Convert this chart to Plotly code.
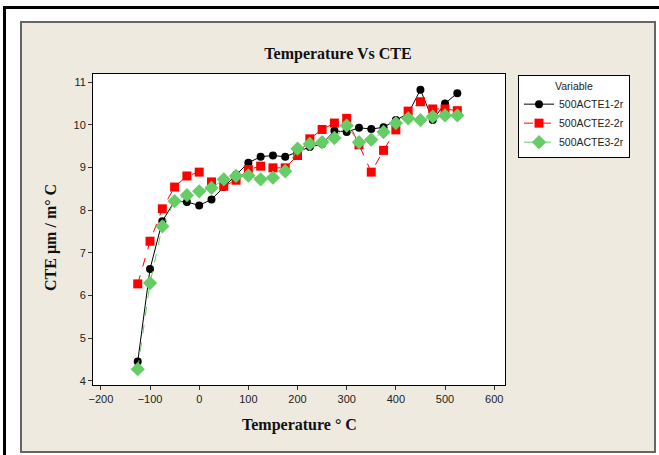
import plotly.graph_objects as go

# Temperature steps (°C)
temperature = [-125, -100, -75, -50, -25, 0, 25, 50, 75, 100, 125, 150, 175, 200,
               225, 250, 275, 300, 325, 350, 375, 400, 425, 450, 475, 500, 525]

# CTE readings (µm/m°C) for each specimen
cte_1 = [4.45, 6.62, 7.74, 8.21, 8.19, 8.11, 8.25, 8.54, 8.83, 9.11, 9.25, 9.28, 9.25, 9.36,
         9.48, 9.55, 9.86, 9.83, 9.93, 9.90, 9.94, 10.11, 10.26, 10.82, 10.11, 10.50, 10.74]
cte_2 = [6.27, 7.27, 8.03, 8.54, 8.80, 8.89, 8.66, 8.56, 8.70, 8.95, 9.03, 8.99, 8.99, 9.28,
         9.67, 9.89, 10.04, 10.15, 9.53, 8.89, 9.40, 9.88, 10.32, 10.54, 10.37, 10.37, 10.33]
cte_3 = [4.27, 6.29, 7.62, 8.21, 8.35, 8.44, 8.52, 8.72, 8.80, 8.81, 8.72, 8.76, 8.91, 9.44,
         9.55, 9.59, 9.69, 9.98, 9.59, 9.65, 9.83, 10.04, 10.15, 10.11, 10.19, 10.22, 10.22]

series_names = ["500ACTE1-2r", "500ACTE2-2r", "500ACTE3-2r"]

x_ticks = [-200, -100, 0, 100, 200, 300, 400, 500, 600]
y_ticks = [4, 5, 6, 7, 8, 9, 10, 11]

W, H = 659, 455
L, R, T, B = 93, 505, 74, 385  # plot area in pixels


def px(x):
    return (x - L) / (R - L)


def py(y):
    return (B - y) / (B - T)


fig = go.Figure()
fig.add_trace(go.Scatter(
    x=temperature, y=cte_1, name=series_names[0], mode="lines+markers",
    line=dict(color="black", width=1),
    marker=dict(symbol="circle", size=8, color="black")))
fig.add_trace(go.Scatter(
    x=temperature, y=cte_2, name=series_names[1], mode="lines+markers",
    line=dict(color="#ff0000", width=1, dash="dash"),
    marker=dict(symbol="square", size=9, color="#ff0000")))
fig.add_trace(go.Scatter(
    x=temperature, y=cte_3, name=series_names[2], mode="lines+markers",
    line=dict(color="#66cc66", width=1, dash="dash"),
    marker=dict(symbol="diamond", size=11, color="#66cc66")))

shapes = [
    # beige panel with grey border
    dict(type="rect", xref="paper", yref="paper", layer="below",
         x0=px(21), x1=px(655), y0=py(452), y1=py(22),
         fillcolor="#eeeae0", line=dict(color="#666666", width=2)),
    # white plotting area
    dict(type="rect", xref="paper", yref="paper", layer="below",
         x0=0, x1=1, y0=0, y1=1, fillcolor="white", line=dict(width=0)),
    # heavy black frame lines at the top and left edges
    dict(type="line", xref="paper", yref="paper", layer="above",
         x0=px(3), x1=px(659), y0=py(7.5), y1=py(7.5),
         line=dict(color="black", width=3)),
    dict(type="line", xref="paper", yref="paper", layer="above",
         x0=px(4.5), x1=px(4.5), y0=py(6), y1=py(455),
         line=dict(color="black", width=3)),
]

annotations = [
    dict(text="<b>Temperature ° C</b>", xref="paper", yref="paper",
         x=0.5, y=py(425), showarrow=False, xanchor="center", yanchor="middle",
         font=dict(family="Liberation Serif", size=16, color="#111111")),
    dict(text="<b>CTE µm / m° C</b>", xref="paper", yref="paper",
         x=px(51), y=py(238), showarrow=False, textangle=-90,
         xanchor="center", yanchor="middle",
         font=dict(family="Liberation Serif", size=16, color="#111111")),
]

axis_common = dict(showline=True, linecolor="black", linewidth=1, mirror=True,
                   ticks="outside", ticklen=4, tickcolor="#333333",
                   showgrid=False, zeroline=False,
                   tickfont=dict(family="Liberation Sans", size=11, color="#222222"))

fig.update_layout(
    width=W, height=H,
    margin=dict(l=L, r=W - R, t=T, b=H - B),
    paper_bgcolor="white", plot_bgcolor="rgba(0,0,0,0)",
    title=dict(text="<b>Temperature Vs CTE</b>", xref="container", yref="container",
               x=338 / W, y=1 - 53 / H, xanchor="center", yanchor="middle",
               font=dict(family="Liberation Serif", size=16, color="#111111")),
    xaxis=dict(range=[-216, 622], tickvals=x_ticks, **axis_common),
    yaxis=dict(range=[3.9, 11.19], tickvals=y_ticks, **axis_common),
    legend=dict(x=px(518), y=py(75), xanchor="left", yanchor="top",
                bgcolor="white", bordercolor="black", borderwidth=1,
                title=dict(text="Variable", side="top center",
                           font=dict(family="Liberation Sans", size=10.5, color="#222222")),
                font=dict(family="Liberation Sans", size=10.5, color="#222222"),
                itemwidth=30, tracegroupgap=0),
    shapes=shapes,
    annotations=annotations,
    showlegend=True,
)

fig.write_html("out.html")
